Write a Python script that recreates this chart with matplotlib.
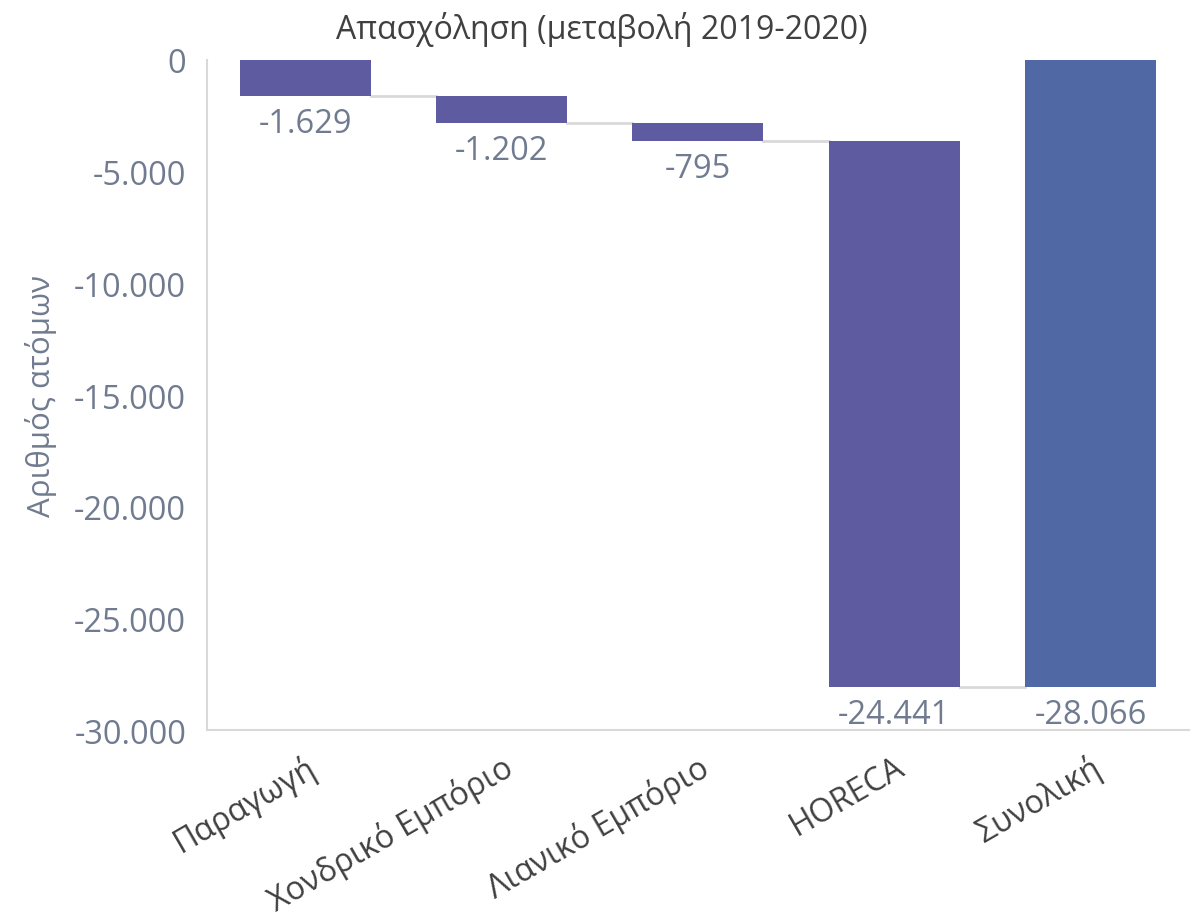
import matplotlib
matplotlib.use("Agg")
import matplotlib.pyplot as plt
from matplotlib.ticker import FuncFormatter

categories = ["Παραγωγή", "Χονδρικό Εμπόριο", "Λιανικό Εμπόριο", "HORECA", "Συνολική"]
values = [-1629, -1202, -795, -24441, -28066]
is_total = [False, False, False, False, True]
yticks = [0, -5000, -10000, -15000, -20000, -25000, -30000]

plt.rcParams['font.family'] = ['Open Sans', 'DejaVu Sans']

c_step = "#5E5BA0"
c_total = "#5068A3"
c_text = "#707B90"
c_line = "#D9D9D9"

def fmt(v):
    s = f"{abs(int(v)):,}".replace(",", ".")
    return ("-" if v < 0 else "") + s

fig = plt.figure(figsize=(11.91, 9.2), dpi=100)
ax = fig.add_axes([0.1738, 0.2054, 0.8242, 0.7283])

bottoms = []
cum = 0
for v, t in zip(values, is_total):
    if t:
        bottoms.append(0)
    else:
        bottoms.append(cum)
        cum += v

width = 0.667
x = list(range(len(categories)))
for i, (v, b, t) in enumerate(zip(values, bottoms, is_total)):
    ax.bar(i, v, bottom=b, width=width, color=c_total if t else c_step, zorder=3)
    end = b + v
    ax.annotate(fmt(v), (i, end), xytext=(0, -8), textcoords="offset points",
                ha="center", va="top", fontsize=23.5, color=c_text)
    if i < len(values) - 1:
        ax.plot([i + width / 2, i + 1 - width / 2], [end, end], color=c_line, lw=2, zorder=2)

ax.set_xlim(-0.5, len(categories) - 0.5)
ax.set_ylim(-30000, 0)
ax.set_yticks(yticks)
ax.yaxis.set_major_formatter(FuncFormatter(lambda v, p: fmt(v)))
ax.tick_params(axis="y", length=0, labelsize=23.5, labelcolor=c_text, pad=15)
ax.set_xticks(x)
ax.set_xticklabels(categories, rotation=30, ha="right", rotation_mode="anchor",
                   fontsize=23, color="#404040")
ax.tick_params(axis="x", length=0, pad=14)

for s in ["top", "right"]:
    ax.spines[s].set_visible(False)
ax.spines["left"].set_color(c_line)
ax.spines["left"].set_linewidth(1.5)
ax.spines["bottom"].set_color(c_line)
ax.spines["bottom"].set_linewidth(1.5)

ax.set_ylabel("Αριθμός ατόμων", fontsize=22.5, color=c_text, labelpad=12)
fig.text(0.505, 0.968, "Απασχόληση (μεταβολή 2019-2020)", ha="center", va="center",
         fontsize=23, color="#404040")

fig.savefig("out.png", dpi=100)
